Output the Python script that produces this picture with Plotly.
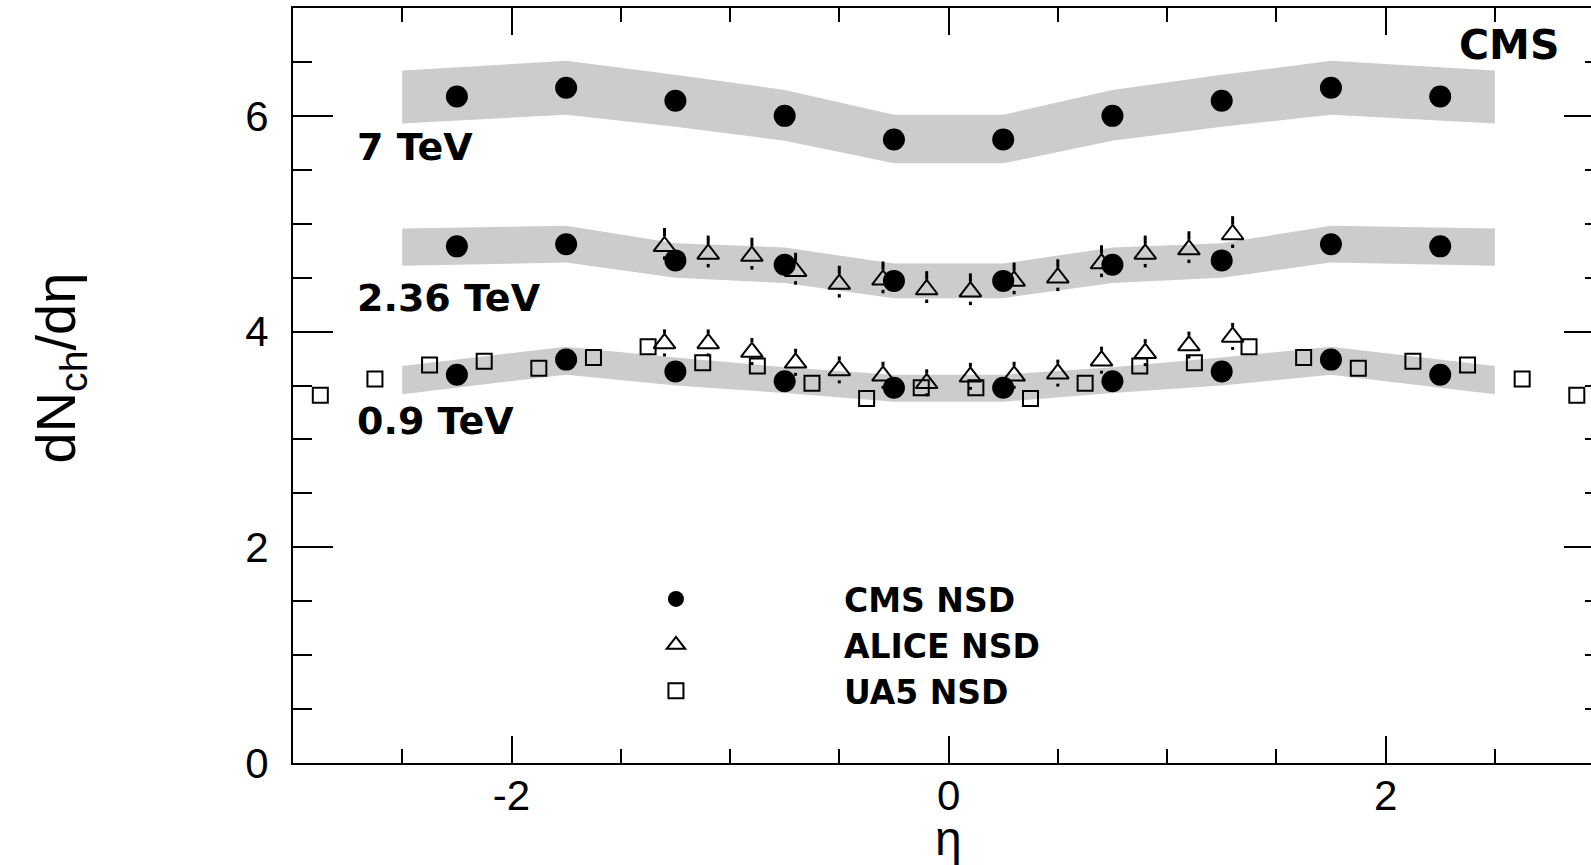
import plotly.graph_objects as go

# ---------------- data ----------------
eta_cms = [-2.25, -1.75, -1.25, -0.75, -0.25, 0.25, 0.75, 1.25, 1.75, 2.25]
cms_7 = [6.18, 6.26, 6.14, 6.00, 5.78, 5.78, 6.00, 6.14, 6.26, 6.18]
cms_236 = [4.79, 4.81, 4.66, 4.62, 4.47, 4.47, 4.62, 4.66, 4.81, 4.79]
cms_09 = [3.60, 3.74, 3.63, 3.54, 3.48, 3.48, 3.54, 3.63, 3.74, 3.60]

band_eta = [-2.5, -1.75, -1.25, -0.75, -0.25, 0.25, 0.75, 1.25, 1.75, 2.5]
band7_hi = [6.42, 6.51, 6.38, 6.24, 6.01, 6.01, 6.24, 6.38, 6.51, 6.42]
band7_lo = [5.93, 6.01, 5.90, 5.77, 5.56, 5.56, 5.77, 5.90, 6.01, 5.93]
band236_hi = [4.955, 4.98, 4.82, 4.78, 4.63, 4.63, 4.78, 4.82, 4.98, 4.955]
band236_lo = [4.61, 4.64, 4.50, 4.45, 4.31, 4.31, 4.45, 4.50, 4.64, 4.61]
band09_hi = [3.68, 3.86, 3.76, 3.67, 3.60, 3.60, 3.67, 3.76, 3.86, 3.68]
band09_lo = [3.42, 3.60, 3.50, 3.43, 3.35, 3.35, 3.43, 3.50, 3.60, 3.42]

eta_alice = [-1.3, -1.1, -0.9, -0.7, -0.5, -0.3, -0.1, 0.1, 0.3, 0.5, 0.7, 0.9, 1.1, 1.3]
alice_236 = [4.79, 4.72, 4.70, 4.56, 4.44, 4.48, 4.39, 4.37, 4.47, 4.50, 4.63, 4.72, 4.76, 4.90]
alice_236_up = [0.17] * 14
alice_236_dn = [0.125] * 14
alice_09 = [3.89, 3.89, 3.81, 3.71, 3.64, 3.59, 3.52, 3.58, 3.59, 3.61, 3.73, 3.80, 3.87, 3.95]
alice_09_up = [0.13] * 14
alice_09_dn = [0.12] * 14

eta_ua5 = [-2.875, -2.625, -2.375, -2.125, -1.875, -1.625, -1.375, -1.125, -0.875, -0.625,
           -0.375, -0.125, 0.125, 0.375, 0.625, 0.875, 1.125, 1.375, 1.625, 1.875,
           2.125, 2.375, 2.625, 2.875]
ua5_09 = [3.41, 3.56, 3.69, 3.725, 3.66, 3.76, 3.86, 3.71, 3.68, 3.52,
          3.38, 3.48, 3.48, 3.38, 3.52, 3.68, 3.71, 3.86, 3.76, 3.66,
          3.725, 3.69, 3.56, 3.41]

x_tickvals = [-2, 0, 2]
x_ticktext = ["-2", "0", "2"]
y_tickvals = [0, 2, 4, 6]
y_ticktext = ["0", "2", "4", "6"]

energy_labels = ["7 TeV", "2.36 TeV", "0.9 TeV"]
energy_label_y = [5.71, 4.31, 3.17]
legend_names = ["CMS NSD", "ALICE NSD", "UA5 NSD"]

# ---------------- style ----------------
W, H = 1591, 865
ML, MR, MT, MB = 293, 0, 8, 102
Y_RANGE = [0, 7]
X_RANGE = [-3, 2.94]
px_per_y = (H - MT - MB) / (Y_RANGE[1] - Y_RANGE[0])
GAP = 10 / px_per_y  # error-bar gap around open markers (ROOT style)
BAND = "#cccccc"
TICKFONT = dict(family="Liberation Sans, Arial, sans-serif", size=42, color="black")
BOLD = dict(family="DejaVu Sans, sans-serif", size=38, color="black", weight=700)

fig = go.Figure()

for lo, hi in [(band7_lo, band7_hi), (band236_lo, band236_hi), (band09_lo, band09_hi)]:
    fig.add_trace(go.Scatter(
        x=band_eta + band_eta[::-1], y=hi + lo[::-1], mode="lines",
        fill="toself", fillcolor=BAND, line=dict(color=BAND, width=0),
        showlegend=False, hoverinfo="skip"))

# UA5
fig.add_trace(go.Scatter(
    x=eta_ua5, y=ua5_09, mode="markers", name=legend_names[2], legendrank=3,
    marker=dict(symbol="square-open", size=15, color="black", line=dict(width=2, color="black"))))

# ALICE error bars (with a gap around the marker) and markers
def err_segments(xs, ys, up, dn):
    ex, ey = [], []
    for x, y, u, d in zip(xs, ys, up, dn):
        if u > GAP:
            ex += [x, x, None]
            ey += [y + GAP, y + u, None]
        if d > GAP:
            ex += [x, x, None]
            ey += [y - GAP, y - d, None]
    return ex, ey

for i, (vals, up, dn) in enumerate([(alice_236, alice_236_up, alice_236_dn),
                                    (alice_09, alice_09_up, alice_09_dn)]):
    ex, ey = err_segments(eta_alice, vals, up, dn)
    fig.add_trace(go.Scatter(x=ex, y=ey, mode="lines", line=dict(color="black", width=3),
                             showlegend=False, hoverinfo="skip"))
    fig.add_trace(go.Scatter(
        x=eta_alice, y=vals, mode="markers", name=legend_names[1], legendrank=2,
        legendgroup="alice", showlegend=(i == 0),
        marker=dict(symbol="triangle-up-open", size=19, color="black", line=dict(width=2, color="black"))))

# CMS (on overlay axis so they sit on top)
for i, vals in enumerate([cms_7, cms_236, cms_09]):
    fig.add_trace(go.Scatter(
        x=eta_cms, y=vals, mode="markers", name=legend_names[0], legendrank=1,
        legendgroup="cms", showlegend=(i == 0), yaxis="y2",
        marker=dict(symbol="circle", size=22, color="black")))

annotations = []
for txt, yv in zip(energy_labels, energy_label_y):
    annotations.append(dict(x=-2.715, y=yv, xref="x", yref="y", text=txt, showarrow=False,
                            xanchor="left", yanchor="middle", font=BOLD))
annotations.append(dict(x=0.977, y=0.951, xref="paper", yref="paper", text="CMS", showarrow=False,
                        xanchor="right", yanchor="middle", font=dict(BOLD, size=41)))
annotations.append(dict(x=0, y=-0.1, xref="x", yref="paper", text="η", showarrow=False,
                        xanchor="center", yanchor="middle",
                        font=dict(family="Liberation Sans, Arial, sans-serif", size=48, color="black")))
annotations.append(dict(x=-0.18, y=0.523, xref="paper", yref="paper", text="dN<sub>ch</sub>/dη",
                        showarrow=False, textangle=-90, xanchor="center", yanchor="middle",
                        font=dict(family="Liberation Sans, Arial, sans-serif", size=56, color="black")))

fig.update_layout(
    width=W, height=H, margin=dict(l=ML, r=MR, t=MT, b=MB, pad=0),
    paper_bgcolor="white", plot_bgcolor="white",
    showlegend=True,
    legend=dict(x=0.1656, y=0.2543, xanchor="left", yanchor="top", itemwidth=326,
                font=dict(family="DejaVu Sans, sans-serif", size=33, color="black", weight=700),
                bgcolor="rgba(0,0,0,0)", borderwidth=0, tracegroupgap=0),
    xaxis=dict(range=X_RANGE, showgrid=False, zeroline=False, showline=True, linecolor="black",
               linewidth=2, mirror="ticks", ticks="inside", ticklen=27, tickwidth=2, tickcolor="black",
               tickmode="array", tickvals=x_tickvals, ticktext=x_ticktext,
               tickfont=TICKFONT, ticklabelstandoff=-5,
               minor=dict(ticks="inside", dtick=0.5, tick0=0, ticklen=14, tickwidth=2,
                          tickcolor="black", showgrid=False)),
    yaxis=dict(range=Y_RANGE, showgrid=False, zeroline=False, showline=True, linecolor="black",
               linewidth=2, mirror=False, ticks="inside", ticklen=40, tickwidth=2, tickcolor="black",
               tickmode="array", tickvals=y_tickvals, ticktext=y_ticktext,
               tickfont=TICKFONT, ticklabelstandoff=14,
               minor=dict(ticks="inside", dtick=0.5, tick0=0, ticklen=19, tickwidth=2,
                          tickcolor="black", showgrid=False)),
    yaxis2=dict(range=Y_RANGE, overlaying="y", side="right", matches="y", showgrid=False,
                zeroline=False, showline=False, showticklabels=False, ticks="inside",
                ticklen=27, tickwidth=2, tickcolor="black", tickmode="array", tickvals=y_tickvals,
                minor=dict(ticks="inside", dtick=0.5, tick0=0, ticklen=6, tickwidth=2,
                           tickcolor="black", showgrid=False)),
    annotations=annotations,
)

fig.write_html("out.html", config={"displayModeBar": False})
